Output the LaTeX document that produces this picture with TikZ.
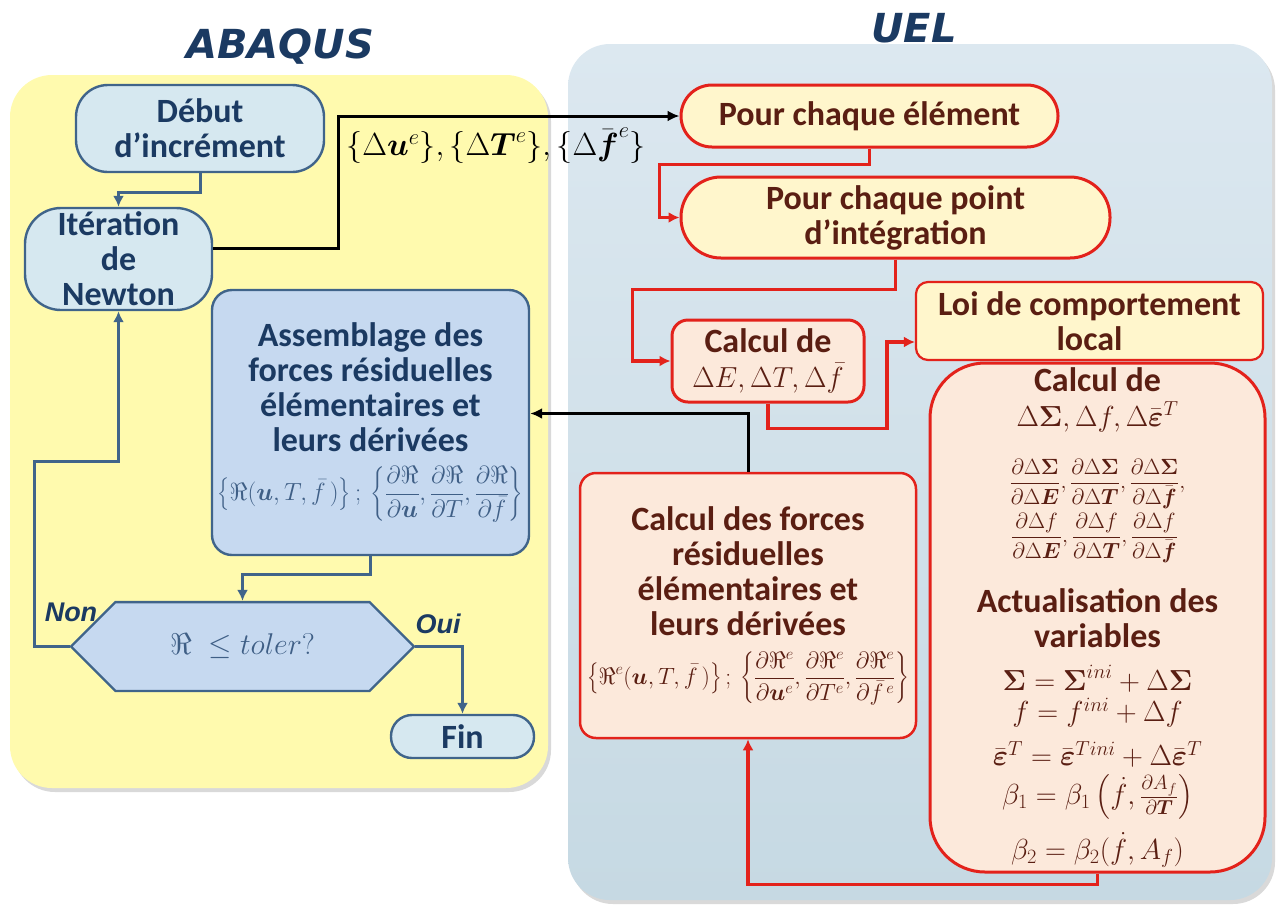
\RequirePackage{fix-cm}
\documentclass[tikz,border=0pt]{standalone}
\usepackage{amsmath}
\usepackage{graphicx}
\usepackage{fontspec}
\setmainfont{Carlito}
\newfontfamily\headfont{DejaVu Sans}
\newfontfamily\answerfont{Liberation Sans}
\usetikzlibrary{arrows.meta,shapes.misc,shadows}

\definecolor{abanavy}{HTML}{1B3A62}
\definecolor{abasteel}{HTML}{40648A}
\definecolor{abapale}{HTML}{D6E8F0}
\definecolor{abamid}{HTML}{C6D9F0}
\definecolor{abaformula}{HTML}{3F5F86}
\definecolor{abayellow}{HTML}{FFFAAE}
\definecolor{ueltop}{HTML}{DCE8F0}
\definecolor{uelbottom}{HTML}{C6D9E3}
\definecolor{uelred}{HTML}{E3221B}
\definecolor{uelbrown}{HTML}{5A1E12}
\definecolor{uelcream}{HTML}{FFF6CC}
\definecolor{uelsalmon}{HTML}{FCE9DB}

\tikzset{
  panel/.style={rounded corners=42pt, drop shadow={shadow xshift=3pt, shadow yshift=-4pt, opacity=.3}},
  boxtext/.style={font=\fontsize{34}{35}\selectfont\bfseries, align=center, inner sep=0pt},
  abastep/.style={boxtext, draw=abasteel, line width=2.4pt, fill=abapale, text=abanavy},
  uelstep/.style={boxtext, draw=uelred, line width=3pt, fill=uelcream, text=uelbrown},
  bluearrow/.style={draw=abasteel, line width=3pt, -{Latex[length=11pt,width=11pt]}},
  redarrow/.style={draw=uelred, line width=3.5pt, -{Latex[length=11pt,width=11pt]}},
  blackarrow/.style={draw=black, line width=3pt, -{Latex[length=12pt,width=11pt]}},
  answer/.style={font=\answerfont\fontsize{27}{27}\selectfont\bfseries\itshape, text=abanavy},
  sidetitle/.style={font=\headfont\fontsize{40}{40}\selectfont\bfseries\itshape, text=abanavy},
}
\newcommand\eqline[1]{{\fontsize{29}{30}\selectfont$#1$}}
\newcommand\fracline[1]{{\fontsize{22}{24}\selectfont$#1$}}

\begin{document}
\begin{tikzpicture}[x=1pt, y=-1pt]
\useasboundingbox (0,0) rectangle (1276,906);
% the two sides: ABAQUS on the left, the UEL routine on the right
\fill[panel, abayellow] (10,75) rectangle (548,788);
\shade[panel, top color=ueltop, bottom color=uelbottom] (568,44) rectangle (1272,900);
\node[sidetitle] (abaqus) at (280,47) {ABAQUS};
\node[sidetitle] (uel) at (914,28) {UEL};

% ABAQUS side
\node[abastep, minimum width=248pt, minimum height=87pt, rounded corners=32pt] (debut) at (200,128.5) {Début\\d’incrément};
\node[abastep, minimum width=187pt, minimum height=102pt, rounded corners=36pt] (newton) at (118.5,259) {Itération\\de\\Newton};
\node[abastep, fill=abamid, minimum width=317pt, minimum height=265pt, rounded corners=20pt] (assem) at (370.5,422.5)
  {Assemblage des\\forces résiduelles\\élémentaires et\\leurs dérivées\\[14pt]
   \resizebox{306pt}{!}{\color{abaformula}$\displaystyle\left\{\Re(\boldsymbol u,T,\bar f\,)\right\};\ \left\{\frac{\partial\Re}{\partial\boldsymbol u},\frac{\partial\Re}{\partial T},\frac{\partial\Re}{\partial\bar f}\right\}$}};
\node[abastep, fill=abamid, chamfered rectangle, chamfered rectangle xsep=76pt, chamfered rectangle ysep=32pt,
  minimum width=343pt, minimum height=63pt, font=\fontsize{30}{30}\selectfont, text=abaformula] (test) at (242.5,646.5) {$\Re\;\leq toler?$};
\node[abastep, minimum width=143pt, minimum height=43pt, rounded corners=21pt] (fin) at (462.5,736.5) {Fin};
\node[answer] (non) at (71,612) {Non};
\node[answer] (oui) at (438,624) {Oui};

% UEL side
\node[uelstep, minimum width=377pt, minimum height=62pt, rounded corners=31pt] (elem) at (869.5,116) {Pour chaque élément};
\node[uelstep, minimum width=429pt, minimum height=81pt, rounded corners=40pt] (point) at (895.5,217.5) {Pour chaque point\\d’intégration};
\node[uelstep, fill=uelsalmon, minimum width=192pt, minimum height=82pt, rounded corners=16pt] (strain) at (768,361)
  {Calcul de\\{\fontsize{29}{33}\selectfont$\Delta E,\Delta T,\Delta\bar f$}};
\node[uelstep, line width=2.2pt, minimum width=347pt, minimum height=78pt, rounded corners=12pt] (law) at (1089.5,321) {Loi de comportement\\local};
\node[uelstep, fill=uelsalmon, minimum width=335pt, minimum height=509pt, rounded corners=55pt] (update) at (1097.5,617.5)
  {Calcul de\\
   \eqline{\Delta\boldsymbol\Sigma,\Delta f,\Delta\bar{\boldsymbol\varepsilon}^{T}}\\[26pt]
   \fracline{\dfrac{\partial\Delta\boldsymbol\Sigma}{\partial\Delta\boldsymbol E},\dfrac{\partial\Delta\boldsymbol\Sigma}{\partial\Delta\boldsymbol T},\dfrac{\partial\Delta\boldsymbol\Sigma}{\partial\Delta\bar{\boldsymbol f}},}\\[3pt]
   \fracline{\dfrac{\partial\Delta f}{\partial\Delta\boldsymbol E},\dfrac{\partial\Delta f}{\partial\Delta\boldsymbol T},\dfrac{\partial\Delta f}{\partial\Delta\bar{\boldsymbol f}}\phantom{,}}\\[25pt]
   Actualisation des\\variables\\[8pt]
   \eqline{\boldsymbol\Sigma=\boldsymbol\Sigma^{ini}+\Delta\boldsymbol\Sigma}\\[-4pt]
   \eqline{f=f^{ini}+\Delta f}\\[9pt]
   \eqline{\bar{\boldsymbol\varepsilon}^{T}=\bar{\boldsymbol\varepsilon}^{Tini}+\Delta\bar{\boldsymbol\varepsilon}^{T}}\\[4pt]
   \eqline{\beta_1=\beta_1\left(\dot f,\frac{\partial A_f}{\partial\boldsymbol T}\right)}\\[12pt]
   \eqline{\beta_2=\beta_2(\dot f,A_f)}};
\node[uelstep, fill=uelsalmon, line width=2.5pt, minimum width=336pt, minimum height=265pt, rounded corners=16pt] (forces) at (748,605.5)
  {Calcul des forces\\résiduelles\\élémentaires et\\leurs dérivées\\[14pt]
   \resizebox{322pt}{!}{\color{uelbrown}$\displaystyle\left\{\Re^e(\boldsymbol u,T,\bar f\,)\right\};\ \left\{\frac{\partial\Re^e}{\partial\boldsymbol u^e},\frac{\partial\Re^e}{\partial T^e},\frac{\partial\Re^e}{\partial\bar f^{\,e}}\right\}$}};

% increments passed to the element routine
\node[font=\fontsize{32}{32}\selectfont] (incr) at (496,146) {$\{\Delta\boldsymbol u^e\},\{\Delta\boldsymbol T^e\},\{\Delta\bar{\boldsymbol f}^e\}$};

% connectors
\draw[bluearrow] (debut.south) -- ++(0,19) -| (newton.north);
\draw[blackarrow] ([yshift=11pt]newton.east) -- ++(125,0) |- (elem.west);
\draw[redarrow] (elem.south) -- ++(0,16) -- ++(-210,0) |- (point.west);
\draw[redarrow] (point.south) -- ++(0,30) -- ++(-263,0) |- (strain.west);
\draw[redarrow] (strain.south) -- ++(0,25) -- ++(119,0) |- ([yshift=-21pt]law.west);
\draw[redarrow] (update.south) -- ++(0,11) -| (forces.south);
\draw[blackarrow] (forces.north) |- ([yshift=9pt]assem.east);
\draw[bluearrow] (assem.south) -- ++(0,18) -| (test.north);
\draw[bluearrow] (test.west) -- ++(-35,0) -- ++(0,-185) -| (newton.south);
\draw[bluearrow] (test.east) -| (fin.north);
\end{tikzpicture}
\end{document}
